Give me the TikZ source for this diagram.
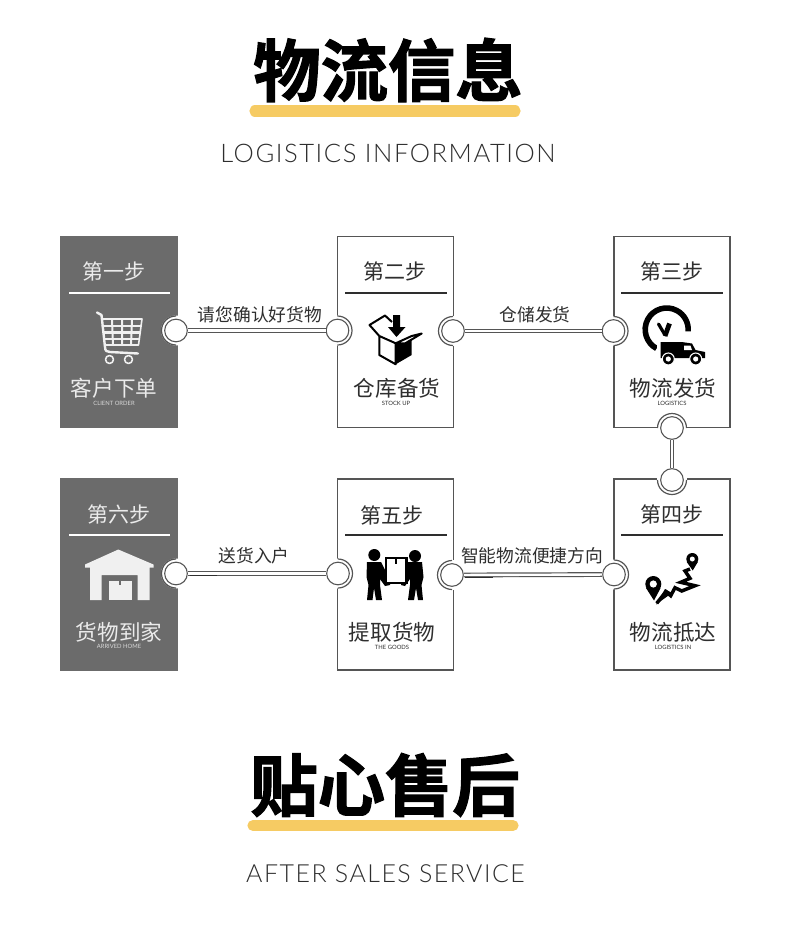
\documentclass[tikz,border=0pt]{standalone}
\usepackage{fontspec}
\setmainfont{Noto Sans CJK SC}
\newfontfamily\ttlfont[AutoFakeBold=1.8]{Noto Sans CJK SC Bold}
\newfontfamily\enfont[LetterSpace=6]{Lato Light}
\newfontfamily\tinyfont{Lato}
\definecolor{boxgray}{HTML}{6B6B6B}
\definecolor{edge}{HTML}{555555}
\definecolor{ink}{HTML}{2E2E2E}
\definecolor{band}{HTML}{F6CB63}
\tikzset{
  stepbox/.style={rectangle,minimum width=87pt,minimum height=143pt,inner sep=0pt,draw=edge,line width=1.2pt,fill=white},
  darkbox/.style={stepbox,draw=boxgray,fill=boxgray},
  ring/.style={circle,minimum size=17pt,inner sep=0pt,draw=edge,line width=.8pt,fill=white},
  halo/.style={draw=edge,line width=.9pt},
  conn/.style={draw=edge,line width=.9pt,double=white,double distance=1.8pt,line cap=butt},
  steptxt/.style={font=\fontsize{15.75pt}{16pt}\selectfont,inner sep=0pt,text=#1},
  steptxt/.default=ink,
  nametxt/.style={font=\fontsize{16.2pt}{17pt}\selectfont,inner sep=0pt,text=#1},
  nametxt/.default=ink,
  tinytxt/.style={font=\tinyfont\fontsize{4.4pt}{5pt}\selectfont,inner sep=0pt,text=#1},
  tinytxt/.default=ink,
  linktxt/.style={font=\fontsize{13.3pt}{14pt}\selectfont,inner sep=0pt,text=ink},
  titletxt/.style={font=\ttlfont\fontsize{50.5pt}{52pt}\selectfont\bfseries,inner sep=0pt,text=black},
  entxt/.style={font=\enfont\fontsize{#1pt}{21pt}\selectfont,inner sep=0pt,text=ink},
  bandline/.style={draw=band,line width=8.4pt,line cap=round},
  divdark/.style={draw=ink,line width=1.5pt},
  divlight/.style={draw=white,line width=1.5pt},
  worn/.style={draw=ink,line width=.9pt},
}
\newcommand{\ringat}[5]{% name,x,y,start,end
  \fill[white] (#2,#3) circle (15);
  \draw[halo] (#2,#3) ++(#4:14.5) arc (#4:#5:14.5);
  \node[ring] (#1) at (#2,#3) {};
}
\begin{document}
\begin{tikzpicture}[x=.75pt,y=-.75pt]
\useasboundingbox (0,0) rectangle (790,928);
\fill[white] (0,0) rectangle (790,928);
% titles
\node[titletxt] (t1) at (388,70) {物流信息};
\coordinate (b1a) at (255,111); \coordinate (b1b) at (515,111);
\draw[bandline] (b1a) -- (b1b);
\node[entxt=19.2] (e1) at (388,153.5) {LOGISTICS INFORMATION};
\node[titletxt] (t2) at (385,785) {贴心售后};
\coordinate (b2a) at (253,825.5); \coordinate (b2b) at (513,825.5);
\draw[bandline] (b2a) -- (b2b);
\node[entxt=18.7] (e2) at (385.5,874) {AFTER SALES SERVICE};
% boxes
\node[darkbox] (s1) at (119,332) {};
\node[stepbox] (s2) at (395.5,332) {};
\node[stepbox] (s3) at (672,332) {};
\node[stepbox] (s4) at (672,574.5) {};
\node[stepbox] (s5) at (395.5,574.5) {};
\node[darkbox] (s6) at (119,574.5) {};
% heads
\node[steptxt=white!92!black] (h1) at (114,271) {第一步};
\node[steptxt] (h2) at (395,271) {第二步};
\node[steptxt] (h3) at (672,271) {第三步};
\node[steptxt] (h4) at (672,514) {第四步};
\node[steptxt] (h5) at (392,515) {第五步};
\node[steptxt=white!92!black] (h6) at (119,514) {第六步};
\draw[divlight] (69,292.5) -- (170,292.5);
\draw[divdark] (345,292.5) -- (447,292.5);
\draw[divdark] (621,292.5) -- (723,292.5);
\draw[divdark] (621,535) -- (723,535);
\draw[divdark] (345,535) -- (447,535);
\draw[divlight] (69,535) -- (170,535);
% names
\node[nametxt=white!92!black] (n1) at (114,388) {客户下单};
\node[tinytxt=white!85!black] (m1) at (114,403) {CLIENT ORDER};
\node[nametxt] (n2) at (397,388) {仓库备货};
\node[tinytxt] (m2) at (396,403) {STOCK UP};
\node[nametxt] (n3) at (673,388) {物流发货};
\node[tinytxt] (m3) at (672,403) {LOGISTICS};
\node[nametxt] (n4) at (673,632) {物流抵达};
\node[tinytxt] (m4) at (673,647) {LOGISTICS IN};
\node[nametxt] (n5) at (392,632) {提取货物};
\node[tinytxt] (m5) at (392,647) {THE GOODS};
\node[nametxt=white!92!black] (n6) at (119,632) {货物到家};
\node[tinytxt=white!85!black] (m6) at (119,646) {ARRIVED HOME};
% rings
\ringat{c1}{176}{330.5}{90}{270}
\ringat{c2}{337.5}{330.5}{-90}{90}
\ringat{c3}{453}{331}{90}{270}
\ringat{c4}{613.5}{331}{-90}{90}
\ringat{c5}{672}{428}{180}{360}
\ringat{c6}{672}{480}{0}{180}
\ringat{c7}{176}{573.5}{90}{270}
\ringat{c8}{338}{573.5}{-90}{90}
\ringat{c9}{452}{575}{90}{270}
\ringat{c10}{614}{574.5}{-90}{90}
% connectors
\draw[conn] (c1) -- (c2);
\draw[conn] (c3) -- (c4);
\draw[conn] (c5) -- (c6);
\draw[conn] (c7) -- (c8);
\draw[conn] (c9) -- (c10);
\coordinate (w1) at (190,575.8); \coordinate (w2) at (217,575.8);
\draw[worn] (w1) -- (w2);
\coordinate (w3) at (465,577.3); \coordinate (w4) at (493,577.3);
\draw[worn] (w3) -- (w4);
% link labels
\node[linktxt] (l1) at (260,315) {请您确认好货物};
\node[linktxt] (l2) at (535,315) {仓储发货};
\node[linktxt] (l3) at (254,556) {送货入户};
\node[linktxt] (l4) at (532,556) {智能物流便捷方向};
% cart icon
\begin{scope}[draw=white!94!black,line join=round,line cap=round]
\draw[line width=1.8pt] (97,312.5) -- (101.5,315) -- (105,347) .. controls (105,351) and (107,352) .. (110,352) -- (138,353.5);
\draw[line width=1.2pt] (102,319) -- (142,319) -- (138.5,345) -- (104.5,345);
\draw[line width=1.6pt] (102.5,326) -- (141,326) (103.5,332.5) -- (140,332.5) (104,339) -- (139,339);
\draw[line width=1.5pt] (112,319) -- (113,345) (122,319) -- (122,345) (132,319) -- (131,345);
\draw[line width=1.2pt] (109.5,359.5) circle (4) (128.5,359.5) circle (4);
\end{scope}
% parcel icon
\begin{scope}[line join=round]
\fill[black] (395.7,343.3) -- (411.7,336) -- (411.7,355) -- (395.7,364.3) -- cycle;
\draw[black,line width=1.5pt,fill=white] (379.3,336) -- (395.7,343.3) -- (395.7,364.3) -- (379.3,355) -- cycle;
\draw[black,line width=1.5pt,fill=white] (379.3,336) -- (369.5,325) -- (385,315.5) -- (392,322);
\draw[black,line width=1.5pt,fill=white] (411.7,336) -- (421.7,333.5) -- (405,343.5) -- (395.7,343.3) -- cycle;
\fill[black] (393,315) -- (400,315) -- (400,327) -- (405.5,327) -- (396.5,337) -- (388,327) -- (393,327) -- cycle;
\end{scope}
% clock and van icon
\draw[black,line width=4.2pt] (666.7,329.5) ++(118:21.5) arc (118:365:21.5);
\draw[black,line width=2.4pt,line cap=round] (665,335) -- (658.5,324);
\draw[black,line width=3.6pt] (665,336) -- (669.5,323.5);
\fill[white] (657,339) rectangle (708,366);
\fill[black,line join=round] (660.5,342.2) -- (683,342.2) -- (692,343.5) -- (695.5,350) -- (705,352) -- (705,358) -- (660.5,358) -- cycle;
\fill[white] (684,345.7) -- (690.5,345.7) -- (692,350) -- (684,350) -- cycle;
\fill[black,draw=white,line width=.8pt] (668.3,359) circle (6);
\fill[white] (668.3,359) circle (2.6);
\fill[black,draw=white,line width=.8pt] (695.7,359) circle (6);
\fill[white] (695.7,359) circle (2.6);
% movers icon
\fill[black] (374.3,555) circle (6);
\fill[black] (415,556) circle (6);
\fill[black,line join=round] (367,562) -- (381,562) -- (385,570) -- (390,577) -- (390,585) -- (385,586) -- (380,579) -- (380,585) -- (382,600) -- (376,600) -- (374,588) -- (372.5,600) -- (367,600) -- (368.5,585) -- (366.5,577) -- cycle;
\fill[black,line join=round] (422,562) -- (408,562) -- (405,570) -- (401,577) -- (401,585) -- (405,586) -- (410,579) -- (410,585) -- (408,600) -- (414,600) -- (416,588) -- (418,600) -- (423,600) -- (421.5,585) -- (423.5,577) -- cycle;
\draw[black,line width=1.7pt,fill=white] (386,558) rectangle (406.5,583);
\draw[black,line width=1.3pt] (396,558) -- (396,564);
% route icon
\fill[black] (653.3,584) circle (8);
\fill[black] (646,588) -- (654,600.5) -- (660.6,588) -- cycle;
\fill[white] (653.3,584) circle (3.6);
\fill[black] (692.3,559) circle (6);
\fill[black] (686.8,562) -- (692.7,570.5) -- (697.8,562) -- cycle;
\fill[white] (692.3,559) circle (2.5);
\draw[black,line join=miter,line width=2.6pt] (656.7,603.3) -- (666,591.7) -- (670.7,595.7) -- (675,587.7) -- (681.7,591) -- (695,585.7) -- (680.7,582.3) -- (690,578.3) -- (685,571) -- (690,569);
\fill[black] (656,604.5) -- (665,589) -- (672,593) -- cycle;
% warehouse icon
\fill[white!94!black,line join=round] (118.3,549.5) -- (153.5,564.5) -- (153.5,567.5) -- (149.5,567.5) -- (149.5,600) -- (137.5,600) -- (137.5,575) -- (101.5,575) -- (101.5,600) -- (90,600) -- (90,567.5) -- (85,567.5) -- (85,564.5) -- cycle;
\fill[white!94!black] (108.5,581) rectangle (131.5,600);
\fill[boxgray] (118.5,581) rectangle (120.5,584.5);
\end{tikzpicture}
\end{document}
